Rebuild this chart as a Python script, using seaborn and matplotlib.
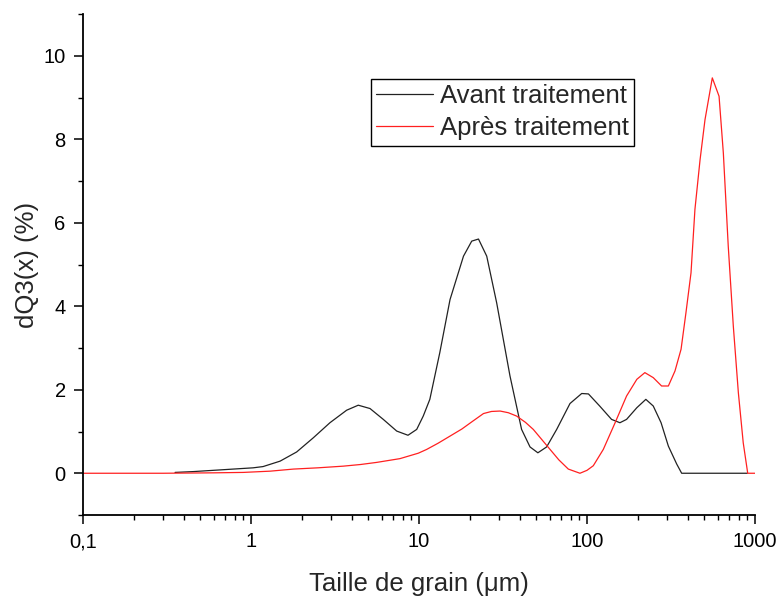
import matplotlib
matplotlib.use("Agg")
import matplotlib.pyplot as plt
import matplotlib.ticker as mticker
import numpy as np
import pandas as pd
import seaborn as sns

# Particle size distribution, before treatment
avant_x = [0.353, 0.454, 0.716, 1.03, 1.18, 1.49, 1.87, 2.35, 2.95, 3.71, 4.35, 5.11,
           6.13, 7.37, 8.6, 9.69, 10.6, 11.6, 13.3, 15.3, 18.4, 20.6, 22.6, 25.3, 29.0,
           34.8, 40.8, 45.8, 51.0, 57.5, 66.0, 79.2, 93.0, 102, 119, 140, 157, 172,
           198, 224, 248, 276, 305, 342, 366, 500, 700, 900]
avant_y = [0.02, 0.04, 0.09, 0.13, 0.16, 0.29, 0.51, 0.85, 1.21, 1.51, 1.63, 1.55,
           1.29, 1.01, 0.91, 1.05, 1.37, 1.77, 2.89, 4.16, 5.20, 5.56, 5.61, 5.20, 4.08,
           2.33, 1.05, 0.63, 0.49, 0.63, 1.05, 1.67, 1.91, 1.90, 1.61, 1.29, 1.21, 1.29,
           1.57, 1.77, 1.61, 1.21, 0.65, 0.22, 0.0, 0.0, 0.0, 0.0]

# Particle size distribution, after treatment
apres_x = [0.1, 0.3, 0.6, 0.9, 1.3, 1.79, 2.5, 3.54, 4.5, 5.6, 7.7, 9.9, 11.1, 13.0,
           15.3, 18.0, 20.6, 24.2, 27.0, 30.4, 34.0, 38.1, 43.0, 47.9, 54.0, 60.3,
           68.0, 77.4, 90.8, 100, 109, 125, 147, 172, 198, 221, 248, 278, 305, 334,
           363, 388, 416, 439, 471, 504, 557, 611, 648, 693, 743, 796, 851, 905, 1000]
apres_y = [0.0, 0.0, 0.01, 0.02, 0.05, 0.10, 0.13, 0.17, 0.21, 0.26, 0.35, 0.48, 0.57,
           0.72, 0.89, 1.06, 1.23, 1.43, 1.48, 1.49, 1.45, 1.37, 1.22, 1.05, 0.80, 0.57,
           0.32, 0.10, 0.0, 0.07, 0.18, 0.57, 1.21, 1.85, 2.25, 2.41, 2.29, 2.09, 2.09,
           2.45, 2.97, 3.84, 4.80, 6.32, 7.51, 8.47, 9.47, 9.03, 7.67, 5.44, 3.52, 1.93,
           0.73, 0.0, 0.0]

series_names = ["Avant traitement", "Après traitement"]
series_colors = ["#222222", "#ff2020"]

x_ticks = [0.1, 1, 10, 100, 1000]
x_tick_labels = ["0,1", "1", "10", "100", "1000"]
y_ticks = [0, 2, 4, 6, 8, 10]

df = pd.concat([
    pd.DataFrame({"taille": avant_x, "dq3": avant_y, "serie": series_names[0]}),
    pd.DataFrame({"taille": apres_x, "dq3": apres_y, "serie": series_names[1]}),
], ignore_index=True)

sns.set_theme(style="ticks")
plt.rcParams["font.family"] = ["Liberation Sans", "DejaVu Sans"]

fig = plt.figure(figsize=(7.81, 5.97), dpi=100)
ax = fig.add_axes([83 / 781, 82 / 597, 672 / 781, 501 / 597])

sns.lineplot(data=df, x="taille", y="dq3", hue="serie", hue_order=series_names,
             palette=series_colors, estimator=None, sort=False, linewidth=0.9, ax=ax)

ax.set_xscale("log")
ax.set_xlim(0.1, 1000)
ax.set_ylim(-1, 11)
ax.set_xticks(x_ticks)
ax.set_xticklabels(x_tick_labels)
ax.xaxis.set_minor_locator(mticker.LogLocator(base=10, subs=np.arange(2, 10)))
ax.xaxis.set_minor_formatter(mticker.NullFormatter())
ax.set_yticks(y_ticks)
ax.yaxis.set_minor_locator(mticker.MultipleLocator(1))

for side in ["top", "right"]:
    ax.spines[side].set_visible(False)
for side in ["left", "bottom"]:
    ax.spines[side].set_linewidth(1.3)
    ax.spines[side].set_color("black")

ax.tick_params(axis="both", which="major", direction="out", length=6.5, width=1.1,
               labelsize=14.5, colors="black", pad=6)
ax.tick_params(axis="both", which="minor", direction="out", length=3.8, width=1.0,
               colors="black")

ax.set_xlabel("Taille de grain (μm)", fontsize=18.5, labelpad=15)
ax.set_ylabel("dQ3(x) (%)", fontsize=18.5, labelpad=3)

leg = ax.legend(loc="upper left", bbox_to_anchor=(0.4286, 0.870), fontsize=18.5,
                frameon=True, fancybox=False, handlelength=2.2, handletextpad=0.3,
                borderpad=0.2, labelspacing=0.32, borderaxespad=0)
leg.get_frame().set_edgecolor("black")
leg.get_frame().set_linewidth(1.0)
leg.get_frame().set_alpha(1)
for line in leg.get_lines():
    line.set_linewidth(0.9)

fig.savefig("out.png", dpi=100, facecolor="white")
